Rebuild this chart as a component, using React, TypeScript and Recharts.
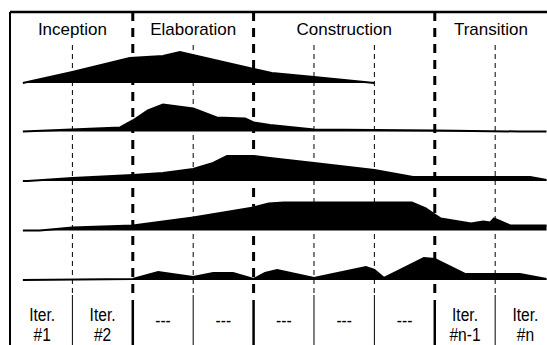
import React from "react";
import {
  Area,
  ComposedChart,
  ReferenceArea,
  ReferenceLine,
  XAxis,
  YAxis,
} from "recharts";

// x is measured in iterations: 0 = start of Iter. #1, 1 = start of Iter. #2 ...
const X_MIN = -0.033;
const X_MAX = 8.858;

const phaseNames = ["Inception", "Elaboration", "Construction", "Transition"];
const phaseStarts = [0, 2, 4, 7];
const phaseEnds = [2, 4, 7, X_MAX];

const iterTop = ["Iter.", "Iter.", "---", "---", "---", "---", "---", "Iter.", "Iter."];
const iterBottom = ["#1", "#2", "", "", "", "", "", "#n-1", "#n"];

const thinLines = [1, 3, 5, 6, 8];
const thickLines = [2, 4, 7];

// hump rows: position (iterations) and height of the effort curve
const row1Pos = [0.18, 1, 1.95, 2.5, 2.78, 4, 4.3, 5, 6];
const row1Val = [0, 11, 25, 27, 31, 14, 10, 6, 0];

const row2Pos = [0.18, 1.79, 2, 2.25, 2.5, 3, 3.39, 3.86, 4, 4.27, 5, 6, 7, 8.4, 8.85];
const row2Val = [0, 4, 11, 21, 27, 23, 14, 13, 9, 6.5, 2, 1.5, 1, 0, 0];

const row3Pos = [0.18, 0.26, 1, 2, 2.5, 3, 3.33, 3.56, 4, 4.27, 5, 6, 6.64, 8.58, 8.85];
const row3Val = [0, 0, 3, 6, 8, 12, 18, 25, 25, 23, 18, 11, 4, 4, 1];

const row4Pos = [0.18, 0.46, 1, 2, 3, 4, 4.25, 4.5, 6.62, 6.85, 7, 7.1, 7.6, 7.8, 7.92, 7.98, 8.25, 8.85];
const row4Val = [0, 0, 3, 5, 13, 23, 27, 28, 28, 22, 16, 12, 7, 9, 8, 12, 5, 5];

const row5Pos = [0.18, 2, 2.42, 3, 3.33, 3.66, 4, 4.19, 4.39, 5, 5.86, 6, 6.16, 6.82, 7, 7.5, 8.41, 8.85];
const row5Val = [0, 1, 8, 3, 7, 7, 1, 7, 10, 2, 13, 10, 2, 22, 21, 6, 6, 1];

const rows = [
  { pos: row1Pos, val: row1Val },
  { pos: row2Pos, val: row2Val },
  { pos: row3Pos, val: row3Val },
  { pos: row4Pos, val: row4Val },
  { pos: row5Pos, val: row5Val },
].map((r) => r.pos.map((t, i) => ({ t, h: r.val[i] })));

// layout
const W = 547;
const H = 345;
const TOP = 12;
const PLOT_H = H - TOP;
const baselines = [83, 131.5, 181, 230.5, 280];
const FONT = "'Liberation Sans', Arial, Helvetica, sans-serif";

function PhaseLabel({ viewBox, text }: any) {
  const cx = viewBox.x + viewBox.width / 2;
  return (
    <text x={cx} y={34.5} textAnchor="middle" fontFamily={FONT} fontSize={17} fill="#000">
      {text}
    </text>
  );
}

function IterLabel({ viewBox, top, bottom }: any) {
  const cx = viewBox.x + viewBox.width / 2;
  const dash = bottom === "";
  return (
    <g transform={`translate(${cx},0) scale(0.82,1)`}>
      <text x={0} y={dash ? 327 : 321} textAnchor="middle" fontFamily={FONT} fontSize={19} fill="#000">
        {top}
      </text>
      {!dash && (
        <text x={0} y={341} textAnchor="middle" fontFamily={FONT} fontSize={19} fill="#000">
          {bottom}
        </text>
      )}
    </g>
  );
}

export default function App() {
  return (
    <div style={{ position: "absolute", left: 0, top: 0, width: W, height: H, background: "#fff" }}>
      <ComposedChart width={W} height={H} margin={{ top: TOP, right: 0, bottom: 0, left: 10 }}>
        <XAxis type="number" dataKey="t" domain={[X_MIN, X_MAX]} allowDataOverflow hide />
        <YAxis yAxisId="frame" type="number" domain={[0, PLOT_H]} reversed allowDataOverflow hide />
        {baselines.map((b, i) => (
          <YAxis
            key={i}
            yAxisId={`r${i}`}
            type="number"
            domain={[b - TOP - PLOT_H, b - TOP]}
            allowDataOverflow
            hide
          />
        ))}

        {rows.map((data, i) => (
          <Area
            key={i}
            yAxisId={`r${i}`}
            data={data}
            dataKey="h"
            type="linear"
            baseValue={0}
            fill="#000"
            fillOpacity={1}
            stroke="#000"
            strokeWidth={2}
            dot={false}
            activeDot={false}
            isAnimationActive={false}
          />
        ))}

        {thinLines.map((t) => (
          <ReferenceLine
            key={`td${t}`}
            yAxisId="frame"
            segment={[{ x: t, y: 33 }, { x: t, y: 281 }]}
            stroke="#000"
            strokeWidth={1}
            strokeDasharray="5 4"
          />
        ))}
        {thinLines.map((t) => (
          <ReferenceLine
            key={`ts${t}`}
            yAxisId="frame"
            segment={[{ x: t, y: 283 }, { x: t, y: PLOT_H }]}
            stroke="#000"
            strokeWidth={1}
          />
        ))}
        {thickLines.map((t) => (
          <ReferenceLine
            key={`kd${t}`}
            yAxisId="frame"
            segment={[{ x: t, y: 0 }, { x: t, y: 281 }]}
            stroke="#000"
            strokeWidth={3}
            strokeDasharray="9 7"
          />
        ))}
        {thickLines.map((t) => (
          <ReferenceLine
            key={`ks${t}`}
            yAxisId="frame"
            segment={[{ x: t, y: 288 }, { x: t, y: PLOT_H }]}
            stroke="#000"
            strokeWidth={2.5}
          />
        ))}

        <ReferenceLine yAxisId="frame" x={X_MIN} stroke="#000" strokeWidth={2} />
        <ReferenceLine yAxisId="frame" y={0} stroke="#000" strokeWidth={2.5} />

        {phaseNames.map((name, i) => (
          <ReferenceArea
            key={name}
            yAxisId="frame"
            x1={phaseStarts[i]}
            x2={phaseEnds[i]}
            fillOpacity={0}
            strokeOpacity={0}
            label={<PhaseLabel text={name} />}
          />
        ))}
        {iterTop.map((top, i) => (
          <ReferenceArea
            key={`it${i}`}
            yAxisId="frame"
            x1={i}
            x2={i + 1}
            ifOverflow="visible"
            fillOpacity={0}
            strokeOpacity={0}
            label={<IterLabel top={top} bottom={iterBottom[i]} />}
          />
        ))}
      </ComposedChart>
    </div>
  );
}
